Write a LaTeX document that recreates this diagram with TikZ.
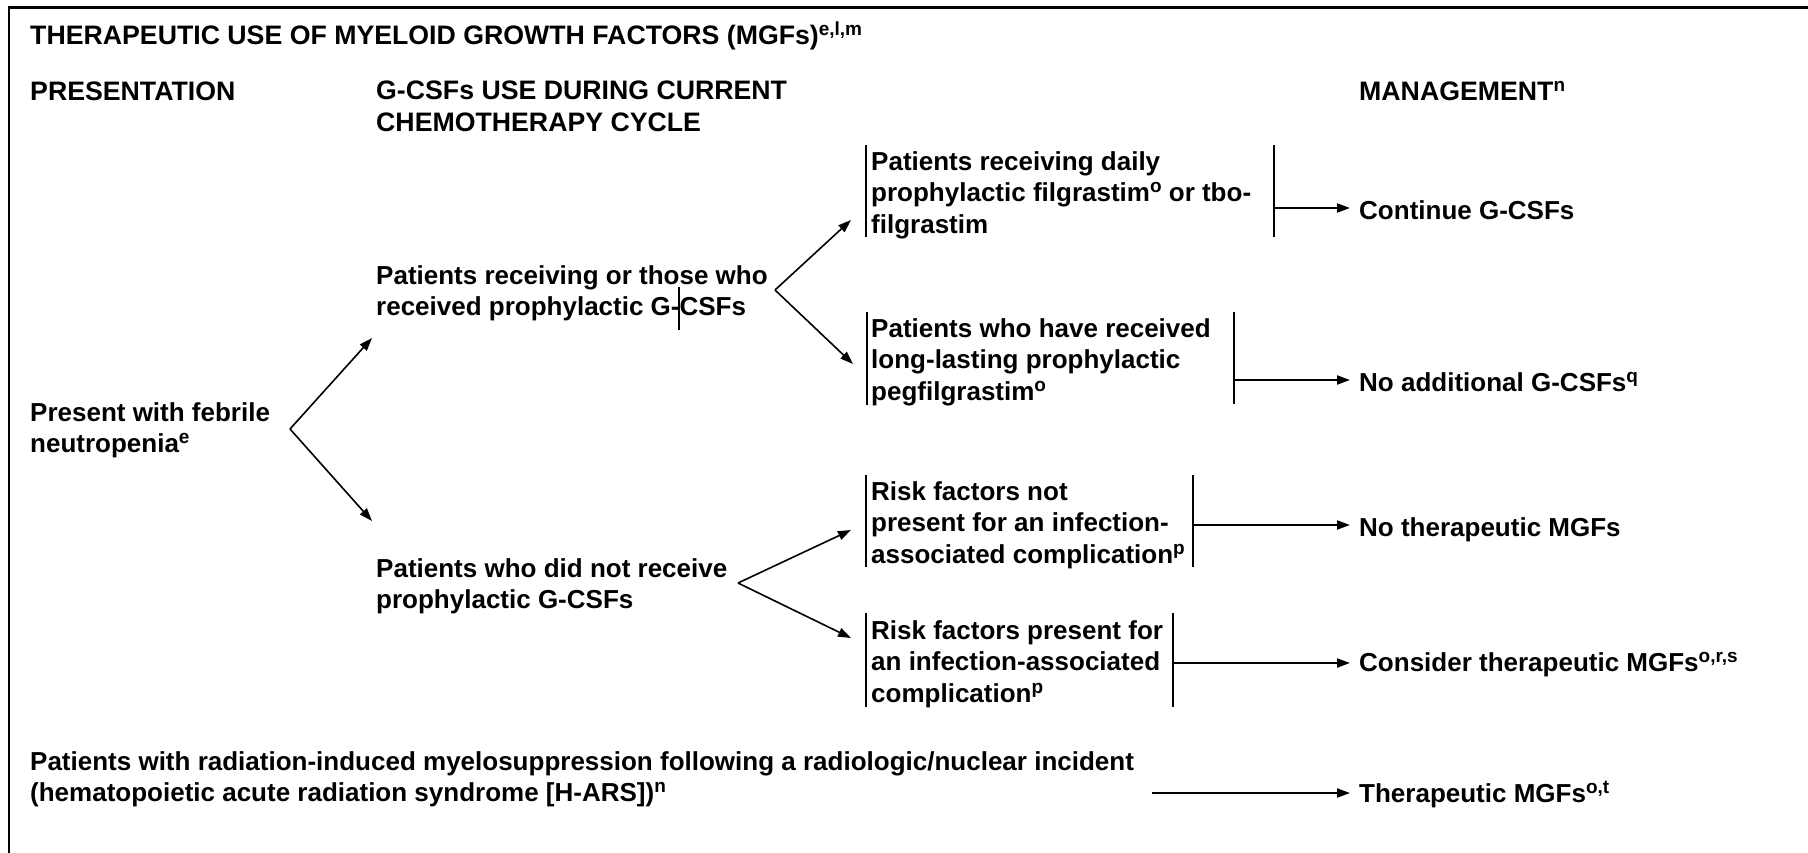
\documentclass[tikz,border=0pt]{standalone}
\usepackage{fontspec}
\setmainfont{Liberation Sans}
\usetikzlibrary{arrows.meta}
\newcommand\spx[1]{\raisebox{9pt}{\fontsize{19}{19}\selectfont #1}}
\begin{document}
\begin{tikzpicture}[x=1pt,y=-1pt,
  lbl/.style={inner sep=0pt, anchor=base west, font=\fontsize{26}{31.5}\selectfont\bfseries},
  head/.style={lbl, font=\fontsize{26.7}{31.5}\selectfont\bfseries},
  blk/.style={inner sep=0pt, anchor=north west, align=left, font=\fontsize{26}{31.5}\selectfont\bfseries},
  bar/.style={line width=2pt},
  arr/.style={line width=2pt,-{Triangle[length=13pt,width=9pt]}},
  fork/.style={line width=1.6pt,-{Triangle[length=13pt,width=9pt]}}]
\useasboundingbox (0,0) rectangle (1808,852);
% frame
\draw[line width=2.5pt] (9,1000) -- (9,7.5) -- (2000,7.5);
% headings
\node[head] (title) at (30,44) {THERAPEUTIC USE OF MYELOID GROWTH FACTORS (MGFs)\spx{e,l,m}};
\node[head] (hpres) at (30,100) {PRESENTATION};
\node[blk, font=\fontsize{26.7}{31.5}\selectfont\bfseries] (hgcsf) at (376,81) {G-CSFs USE DURING CURRENT\\CHEMOTHERAPY CYCLE};
\node[head] (hman) at (1359,100) {MANAGEMENT\spx{n}};
% presentation
\node[blk] (pres) at (30,402.4) {Present with febrile\\neutropenia\spx{e}};
\node[blk] (rec) at (376,265.4) {Patients receiving or those who\\received prophylactic G-CSFs};
\node[blk] (notrec) at (376,558.4) {Patients who did not receive\\prophylactic G-CSFs};
% boxes
\node[blk] (b1) at (871,151.4) {Patients receiving daily\\prophylactic filgrastim\spx{o} or tbo-\\filgrastim};
\node[blk] (b2) at (871,318.4) {Patients who have received\\long-lasting prophylactic\\pegfilgrastim\spx{o}};
\node[blk] (b3) at (871,481.4) {Risk factors not\\present for an infection-\\associated complication\spx{p}};
\node[blk] (b4) at (871,620.4) {Risk factors present for\\an infection-associated\\complication\spx{p}};
\node[blk] (rad) at (30,751.4) {Patients with radiation-induced myelosuppression following a radiologic/nuclear incident\\(hematopoietic acute radiation syndrome [H-ARS])\spx{n}};
% management
\node[lbl] (m1) at (1359,219) {Continue G-CSFs};
\node[lbl] (m2) at (1359,391) {No additional G-CSFs\spx{q}};
\node[lbl] (m3) at (1359,536) {No therapeutic MGFs};
\node[lbl] (m4) at (1359,671) {Consider therapeutic MGFs\spx{o,r,s}};
\node[lbl] (m5) at (1359,802) {Therapeutic MGFs\spx{o,t}};
% bars
\draw[bar] (866,145) -- (866,237);
\draw[bar] (1274,145) -- (1274,237);
\draw[bar] (867,312) -- (867,405);
\draw[bar] (1234,312) -- (1234,404);
\draw[bar] (866,475) -- (866,567);
\draw[bar] (1193,475) -- (1193,567);
\draw[bar] (866,613) -- (866,707);
\draw[bar] (1173,613) -- (1173,707);
% cursor mark
\draw[line width=1.5pt] (679,287) -- (679,330);
% fork points
\coordinate (v0) at (290,429);
\coordinate (t0a) at (372,338);
\coordinate (t0b) at (372,521);
\coordinate (v1) at (775,290);
\coordinate (t1a) at (851,220);
\coordinate (t1b) at (853,364);
\coordinate (v2) at (738,583);
\coordinate (t2a) at (851,530);
\coordinate (t2b) at (851,638);
\draw[fork] (v0) -- (t0a);
\draw[fork] (v0) -- (t0b);
\draw[fork] (v1) -- (t1a);
\draw[fork] (v1) -- (t1b);
\draw[fork] (v2) -- (t2a);
\draw[fork] (v2) -- (t2b);
% management arrows
\coordinate (s1) at (1275,208);
\coordinate (e1) at (1350,208);
\coordinate (s2) at (1235,380);
\coordinate (e2) at (1350,380);
\coordinate (s3) at (1194,525);
\coordinate (e3) at (1350,525);
\coordinate (s4) at (1174,663);
\coordinate (e4) at (1350,663);
\coordinate (s5) at (1152,793);
\coordinate (e5) at (1350,793);
\draw[arr] (s1) -- (e1);
\draw[arr] (s2) -- (e2);
\draw[arr] (s3) -- (e3);
\draw[arr] (s4) -- (e4);
\draw[arr] (s5) -- (e5);
\end{tikzpicture}
\end{document}
